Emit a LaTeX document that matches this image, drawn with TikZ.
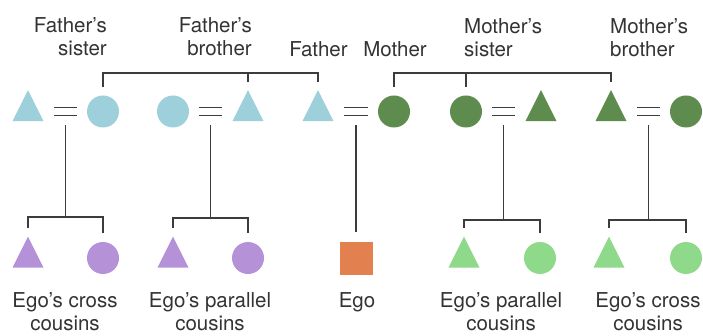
\documentclass[tikz,border=0pt]{standalone}
\usepackage{fontspec}
\setmainfont{TeX Gyre Heros}
\usetikzlibrary{shapes.geometric,calc}
\definecolor{fblue}{HTML}{9DD0DB}
\definecolor{mgreen}{HTML}{5E8B4E}
\definecolor{xpurple}{HTML}{B592D8}
\definecolor{pgreen}{HTML}{8FD98B}
\definecolor{egoorange}{HTML}{E2814F}
\definecolor{linegray}{HTML}{3C3C3C}
\definecolor{textgray}{HTML}{333333}
\begin{document}
\begin{tikzpicture}[x=1pt,y=-1pt,
  kin/.style={inner sep=0pt, outer sep=0pt, draw=none},
  male/.style={kin, isosceles triangle, isosceles triangle stretches,
    shape border rotate=90, minimum width=31pt, minimum height=31pt, fill=#1},
  female/.style={kin, circle, minimum size=32pt, fill=#1},
  egobox/.style={kin, rectangle, minimum size=33pt, fill=egoorange},
  rel/.style={draw=linegray, line width=1.3pt},
  marry/.style={draw=linegray, line width=1.2pt, double=white,
    double distance=6.4pt, shorten <=26pt, shorten >=26pt},
  lbl/.style={inner sep=0pt, text=textgray,
    font=\fontsize{20.5}{23.5}\selectfont}
]
\useasboundingbox (0,0) rectangle (703,336);

% parents' generation
\node[male=fblue]   (fzh) at (28,111.5)  {};
\node[female=fblue] (fz)  at (103,111.5) {};
\node[female=fblue] (fbw) at (173,111.5) {};
\node[male=fblue]   (fb)  at (248,111.5) {};
\node[male=fblue]   (f)   at (318,111.5) {};
\node[female=mgreen] (m)   at (394,111.5) {};
\node[female=mgreen] (mz)  at (466,111.5) {};
\node[male=mgreen]   (mzh) at (541,111.5) {};
\node[male=mgreen]   (mb)  at (611,111.5) {};
\node[female=mgreen] (mbw) at (686,111.5) {};

% cousins' generation
\node[male=xpurple]   (k1) at (28,258)  {};
\node[female=xpurple] (k2) at (103,258) {};
\node[male=xpurple]   (k3) at (173,258) {};
\node[female=xpurple] (k4) at (248,258) {};
\node[egobox]         (ego) at (356,259) {};
\node[male=pgreen]    (k5) at (464,258) {};
\node[female=pgreen]  (k6) at (540,258) {};
\node[male=pgreen]    (k7) at (609,258) {};
\node[female=pgreen]  (k8) at (686,258) {};

% marriages
\draw[marry] (fzh.center) -- (fz.center);
\draw[marry] (fbw.center) -- (fb.center);
\draw[marry] (f.center) -- (m.center);
\draw[marry] (mz.center) -- (mzh.center);
\draw[marry] (mb.center) -- (mbw.center);

\coordinate (u1) at ($(fzh.center)!0.5!(fz.center)$);
\coordinate (u2) at ($(fbw.center)!0.5!(fb.center)$);
\coordinate (u3) at ($(f.center)!0.5!(m.center)$);
\coordinate (u4) at ($(mz.center)!0.5!(mzh.center)$);
\coordinate (u5) at ($(mb.center)!0.5!(mbw.center)$);

% sibling sets of the parents
\draw[rel, shorten <=8pt, shorten >=8pt] (fz.north) -- (fz.north |- 0,73) -| (f.north);
\draw[rel, shorten >=8pt] (fb.north |- 0,73) -- (fb.north);
\draw[rel, shorten <=8pt, shorten >=8pt] (m.north) -- (m.north |- 0,73) -| (mb.north);
\draw[rel, shorten >=8pt] (mz.north |- 0,73) -- (mz.north);

% descent lines
\draw[rel, shorten <=13.5pt] (u1) -- (u1 |- 0,217);
\draw[rel, shorten <=9pt, shorten >=9pt] (k1.north) -- (k1.north |- 0,217) -| (k2.north);
\draw[rel, shorten <=13.5pt] (u2) -- (u2 |- 0,218);
\draw[rel, shorten <=9pt, shorten >=9pt] (k3.north) -- (k3.north |- 0,218) -| (k4.north);
\draw[rel, shorten <=13.5pt, shorten >=10pt] (u3) -- (u3 |- ego.north);
\draw[rel, shorten <=13.5pt] (u4) -- (u4 |- 0,220);
\draw[rel, shorten <=9pt, shorten >=9pt] (k5.north) -- (k5.north |- 0,220) -| (k6.north);
\draw[rel, shorten <=13.5pt] (u5) -- (u5 |- 0,220);
\draw[rel, shorten <=9pt, shorten >=9pt] (k7.north) -- (k7.north |- 0,220) -| (k8.north);

% labels
\node[lbl, anchor=north east, align=right] (lfz) at (107,17) {Father’s\\sister};
\node[lbl, anchor=north east, align=right] (lfb) at (252,17) {Father’s\\brother};
\node[lbl, anchor=north] (lf) at (318.5,41) {Father};
\node[lbl, anchor=north] (lm) at (395,41) {Mother};
\node[lbl, anchor=north west, align=left] (lmz) at (464,18) {Mother’s\\sister};
\node[lbl, anchor=north west, align=left] (lmb) at (610,18) {Mother’s\\brother};

\node[lbl, anchor=north, align=center] (l1) at (65,292) {Ego’s cross\\cousins};
\node[lbl, anchor=north, align=center] (l2) at (210,292) {Ego’s parallel\\cousins};
\node[lbl, anchor=north] (l3) at (357,292) {Ego};
\node[lbl, anchor=north, align=center] (l4) at (501,292) {Ego’s parallel\\cousins};
\node[lbl, anchor=north, align=center] (l5) at (648,292) {Ego’s cross\\cousins};
\end{tikzpicture}
\end{document}
